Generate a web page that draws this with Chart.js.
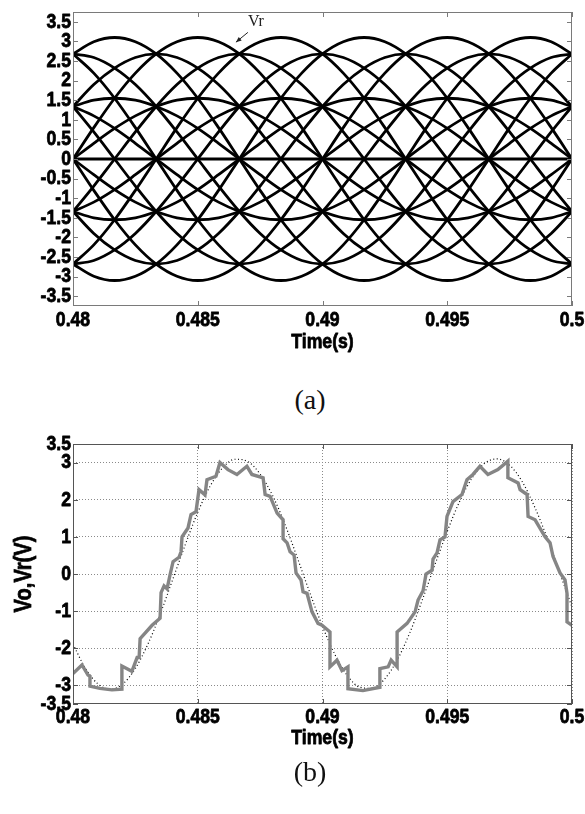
<!DOCTYPE html>
<html>
<head>
<meta charset="utf-8">
<script src="https://cdn.jsdelivr.net/npm/chart.js@4.4.0/dist/chart.umd.min.js"></script>
<style>
  html, body { margin: 0; padding: 0; background: #fff; }
  body { width: 585px; height: 814px; position: relative; overflow: hidden; }
  canvas { position: absolute; left: 0; }
  #chartA { top: 0; }
  #chartB { top: 420px; }
  .cap { position: absolute; left: 0; width: 620px; text-align: center; line-height: 30px;
         font-family: 'Liberation Serif', 'Times New Roman', serif; font-size: 28px; color: #111; }
</style>
</head>
<body>
<canvas id="chartA" width="585" height="360"></canvas>
<div class="cap" style="top:385px">(a)</div>
<canvas id="chartB" width="585" height="345"></canvas>
<div class="cap" style="top:757px">(b)</div>
<script>
// ---- (a) reference waves, sampled every 15 degrees of the 50 Hz period ----
const tA = [0.48, 0.480833, 0.481667, 0.4825, 0.483333, 0.484167, 0.485, 0.485833, 0.486667,
  0.4875, 0.488333, 0.489167, 0.49, 0.490833, 0.491667, 0.4925, 0.493333, 0.494167, 0.495,
  0.495833, 0.496667, 0.4975, 0.498333, 0.499167, 0.5];

// amplitude 3.1 group
const big0   = [0,0.80,1.55,2.19,2.68,2.99,3.10,2.99,2.68,2.19,1.55,0.80,0,-0.80,-1.55,-2.19,-2.68,-2.99,-3.10,-2.99,-2.68,-2.19,-1.55,-0.80,0];
const big60  = [2.68,2.99,3.10,2.99,2.68,2.19,1.55,0.80,0,-0.80,-1.55,-2.19,-2.68,-2.99,-3.10,-2.99,-2.68,-2.19,-1.55,-0.80,0,0.80,1.55,2.19,2.68];
const big120 = [2.68,2.19,1.55,0.80,0,-0.80,-1.55,-2.19,-2.68,-2.99,-3.10,-2.99,-2.68,-2.19,-1.55,-0.80,0,0.80,1.55,2.19,2.68,2.99,3.10,2.99,2.68];
const big180 = [0,-0.80,-1.55,-2.19,-2.68,-2.99,-3.10,-2.99,-2.68,-2.19,-1.55,-0.80,0,0.80,1.55,2.19,2.68,2.99,3.10,2.99,2.68,2.19,1.55,0.80,0];
const big240 = [-2.68,-2.99,-3.10,-2.99,-2.68,-2.19,-1.55,-0.80,0,0.80,1.55,2.19,2.68,2.99,3.10,2.99,2.68,2.19,1.55,0.80,0,-0.80,-1.55,-2.19,-2.68];
const big300 = [-2.68,-2.19,-1.55,-0.80,0,0.80,1.55,2.19,2.68,2.99,3.10,2.99,2.68,2.19,1.55,0.80,0,-0.80,-1.55,-2.19,-2.68,-2.99,-3.10,-2.99,-2.68];

// amplitude 2.68 group
const mid30  = [1.34,1.90,2.32,2.59,2.68,2.59,2.32,1.90,1.34,0.69,0,-0.69,-1.34,-1.90,-2.32,-2.59,-2.68,-2.59,-2.32,-1.90,-1.34,-0.69,0,0.69,1.34];
const mid90  = [2.68,2.59,2.32,1.90,1.34,0.69,0,-0.69,-1.34,-1.90,-2.32,-2.59,-2.68,-2.59,-2.32,-1.90,-1.34,-0.69,0,0.69,1.34,1.90,2.32,2.59,2.68];
const mid150 = [1.34,0.69,0,-0.69,-1.34,-1.90,-2.32,-2.59,-2.68,-2.59,-2.32,-1.90,-1.34,-0.69,0,0.69,1.34,1.90,2.32,2.59,2.68,2.59,2.32,1.90,1.34];
const mid210 = [-1.34,-1.90,-2.32,-2.59,-2.68,-2.59,-2.32,-1.90,-1.34,-0.69,0,0.69,1.34,1.90,2.32,2.59,2.68,2.59,2.32,1.90,1.34,0.69,0,-0.69,-1.34];
const mid270 = [-2.68,-2.59,-2.32,-1.90,-1.34,-0.69,0,0.69,1.34,1.90,2.32,2.59,2.68,2.59,2.32,1.90,1.34,0.69,0,-0.69,-1.34,-1.90,-2.32,-2.59,-2.68];
const mid330 = [-1.34,-0.69,0,0.69,1.34,1.90,2.32,2.59,2.68,2.59,2.32,1.90,1.34,0.69,0,-0.69,-1.34,-1.90,-2.32,-2.59,-2.68,-2.59,-2.32,-1.90,-1.34];

// amplitude 1.55 group
const sm0   = [0,0.40,0.78,1.10,1.34,1.50,1.55,1.50,1.34,1.10,0.78,0.40,0,-0.40,-0.78,-1.10,-1.34,-1.50,-1.55,-1.50,-1.34,-1.10,-0.78,-0.40,0];
const sm60  = [1.34,1.50,1.55,1.50,1.34,1.10,0.78,0.40,0,-0.40,-0.78,-1.10,-1.34,-1.50,-1.55,-1.50,-1.34,-1.10,-0.78,-0.40,0,0.40,0.78,1.10,1.34];
const sm120 = [1.34,1.10,0.78,0.40,0,-0.40,-0.78,-1.10,-1.34,-1.50,-1.55,-1.50,-1.34,-1.10,-0.78,-0.40,0,0.40,0.78,1.10,1.34,1.50,1.55,1.50,1.34];
const sm180 = [0,-0.40,-0.78,-1.10,-1.34,-1.50,-1.55,-1.50,-1.34,-1.10,-0.78,-0.40,0,0.40,0.78,1.10,1.34,1.50,1.55,1.50,1.34,1.10,0.78,0.40,0];
const sm240 = [-1.34,-1.50,-1.55,-1.50,-1.34,-1.10,-0.78,-0.40,0,0.40,0.78,1.10,1.34,1.50,1.55,1.50,1.34,1.10,0.78,0.40,0,-0.40,-0.78,-1.10,-1.34];
const sm300 = [-1.34,-1.10,-0.78,-0.40,0,0.40,0.78,1.10,1.34,1.50,1.55,1.50,1.34,1.10,0.78,0.40,0,-0.40,-0.78,-1.10,-1.34,-1.50,-1.55,-1.50,-1.34];

const zeroT = [0.48, 0.5];
const zeroV = [0, 0];

const xTicks = [0.48, 0.485, 0.49, 0.495, 0.5];
const yTicksA = [-3.5,-3,-2.5,-2,-1.5,-1,-0.5,0,0.5,1,1.5,2,2.5,3,3.5];

// ---- (b) output voltage Vo and reference Vr ----
const voT = [0.48,0.48036,0.4806,0.48068,0.48068,0.48108,0.48156,0.48196,0.48196,0.48236,
  0.48257,0.48265,0.48269,0.48317,0.48349,0.48353,0.48365,0.48377,0.48389,0.48401,
  0.48425,0.48433,0.48437,0.48461,0.48473,0.48493,0.48505,0.48529,0.48537,0.48573,
  0.48589,0.48621,0.48657,0.48697,0.48717,0.48762,0.4877,0.4879,0.48818,0.48842,
  0.48842,0.48858,0.4887,0.48886,0.48894,0.48914,0.48922,0.48938,0.48958,0.48982,
  0.48998,0.4903,0.4903,0.49058,0.49078,0.49102,0.49102,0.49162,0.4923,0.4923,
  0.49263,0.49275,0.49299,0.49299,0.49339,0.49371,0.49383,0.49403,0.49415,0.49439,
  0.49443,0.49459,0.49471,0.49491,0.49499,0.49523,0.49559,0.49579,0.49603,0.49631,
  0.49663,0.49703,0.49743,0.49743,0.49784,0.49792,0.4982,0.49824,0.49852,0.49892,
  0.49912,0.49924,0.49952,0.49972,0.4998,0.4998,0.5];
const voV = [-2.68,-2.45,-2.72,-2.75,-3.02,-3.08,-3.12,-3.1,-2.48,-2.62,
  -2.25,-2.25,-1.74,-1.38,-1.19,-0.5,-0.32,-0.4,-0.02,0.33,
  0.45,0.6,1.0,1.24,1.6,1.68,2.27,2.13,2.54,2.63,
  3.0,2.81,2.68,2.9,2.68,2.59,2.14,2.09,1.64,1.46,
  0.95,0.84,0.6,0.51,0.03,-0.16,-0.48,-0.52,-1.02,-1.33,
  -1.38,-1.56,-2.5,-2.32,-2.6,-2.5,-3.09,-3.14,-3.05,-2.55,
  -2.5,-2.32,-2.5,-1.56,-1.33,-1.02,-0.7,-0.45,0,0.1,
  0.4,0.57,0.92,1.0,1.55,1.95,2.14,2.54,2.68,2.9,
  2.68,2.81,3.04,2.59,2.45,2.27,2.14,1.55,1.46,1.0,
  0.84,0.47,0.03,-0.16,-0.52,-1.29,-1.38];

const vrT = [0.48,0.4805,0.481,0.4815,0.482,0.4825,0.483,0.4835,0.484,0.4845,
  0.485,0.4855,0.486,0.4865,0.487,0.4875,0.488,0.4885,0.489,0.4895,
  0.49,0.4905,0.491,0.4915,0.492,0.4925,0.493,0.4935,0.494,0.4945,
  0.495,0.4955,0.496,0.4965,0.497,0.4975,0.498,0.4985,0.499,0.4995,0.5];
const vrV = [-1.89,-2.54,-2.96,-3.10,-2.96,-2.54,-1.89,-1.07,-0.14,0.79,
  1.66,2.37,2.86,3.09,3.03,2.69,2.11,1.33,0.42,-0.52,
  -1.41,-2.17,-2.74,-3.05,-3.08,-2.82,-2.31,-1.58,-0.70,0.24,
  1.15,1.96,2.59,2.98,3.10,2.93,2.49,1.81,0.98,0.05,-0.89];
const yTicksB = [-3.5,-3,-2,-1,0,1,2,3,3.5];

// ---- helpers ----
const fam = "'Liberation Sans', Arial, sans-serif";
const pts = (xs, ys) => xs.map((x, i) => ({ x: x, y: ys[i] }));
const fmt = v => String(v);

// box around the plot with short inward ticks, like the original figure
const frame = {
  id: 'frame',
  afterDatasetsDraw(chart, args, opts) {
    const { ctx, chartArea: a, scales: { x, y } } = chart;
    ctx.save();
    ctx.strokeStyle = opts.color;
    ctx.lineWidth = 1;
    ctx.strokeRect(a.left + 0.5, a.top + 0.5, a.right - a.left - 1, a.bottom - a.top - 1);
    ctx.beginPath();
    for (const t of x.ticks) {
      const px = Math.round(x.getPixelForValue(t.value)) + 0.5;
      ctx.moveTo(px, a.bottom); ctx.lineTo(px, a.bottom - opts.len);
      ctx.moveTo(px, a.top); ctx.lineTo(px, a.top + opts.len);
    }
    for (const t of y.ticks) {
      const py = Math.round(y.getPixelForValue(t.value)) + 0.5;
      ctx.moveTo(a.left, py); ctx.lineTo(a.left + opts.len, py);
      ctx.moveTo(a.right, py); ctx.lineTo(a.right - opts.len, py);
    }
    ctx.stroke();
    ctx.restore();
  }
};

// tick labels and titles in a narrow heavy face (the figure uses a condensed bold font)
const axisText = {
  id: 'axisText',
  afterDraw(chart, args, o) {
    const { ctx, chartArea: a, scales: { x, y } } = chart;
    const put = (txt, px, py, align, size, rot) => {
      ctx.save();
      ctx.translate(px, py);
      if (rot) ctx.rotate(rot);
      ctx.scale(o.squeeze, 1);
      ctx.font = 'bold ' + size + 'px ' + fam;
      ctx.fillStyle = '#000';
      ctx.strokeStyle = '#000';
      ctx.lineWidth = 0.8;
      ctx.lineJoin = 'round';
      ctx.textAlign = align;
      ctx.textBaseline = 'middle';
      ctx.fillText(txt, 0, 0);
      ctx.strokeText(txt, 0, 0);
      ctx.restore();
    };
    for (const t of x.ticks) put(fmt(t.value), x.getPixelForValue(t.value), a.bottom + o.xGap, 'center', o.size);
    for (const t of y.ticks) put(fmt(t.value), a.left - 2, y.getPixelForValue(t.value), 'right', o.size);
    put('Time(s)', (a.left + a.right) / 2, a.bottom + o.titleGap, 'center', o.size);
    if (o.yTitle) put(o.yTitle, o.yTitleX, (a.top + a.bottom) / 2, 'center', o.yTitleSize, -Math.PI / 2);
  }
};

// "Vr" note with its arrow in (a)
const noteText = [0.48733, 3.49];
const noteFrom = [0.48701, 3.23];
const noteTo = [0.48653, 2.98];
const vrNote = {
  id: 'vrNote',
  afterDatasetsDraw(chart) {
    const { ctx, scales: { x, y } } = chart;
    const x0 = x.getPixelForValue(noteFrom[0]), y0 = y.getPixelForValue(noteFrom[1]);
    const x1 = x.getPixelForValue(noteTo[0]), y1 = y.getPixelForValue(noteTo[1]);
    ctx.save();
    ctx.strokeStyle = '#222';
    ctx.fillStyle = '#222';
    ctx.lineWidth = 1;
    ctx.beginPath(); ctx.moveTo(x0, y0); ctx.lineTo(x1, y1); ctx.stroke();
    const ang = Math.atan2(y1 - y0, x1 - x0);
    ctx.beginPath();
    ctx.moveTo(x1, y1);
    ctx.lineTo(x1 - 6 * Math.cos(ang - 0.4), y1 - 6 * Math.sin(ang - 0.4));
    ctx.lineTo(x1 - 6 * Math.cos(ang + 0.4), y1 - 6 * Math.sin(ang + 0.4));
    ctx.closePath(); ctx.fill();
    ctx.font = "16px 'Liberation Serif', 'Times New Roman', serif";
    ctx.textAlign = 'center';
    ctx.textBaseline = 'middle';
    ctx.fillText('Vr', x.getPixelForValue(noteText[0]), y.getPixelForValue(noteText[1]));
    ctx.restore();
  }
};

// ---- chart (a) ----
const curvesA = [big0, big60, big120, big180, big240, big300,
  mid30, mid90, mid150, mid210, mid270, mid330,
  sm0, sm60, sm120, sm180, sm240, sm300];
const dsA = curvesA.map(c => ({
  data: pts(tA, c), borderColor: '#000', borderWidth: 2.8,
  pointRadius: 0, cubicInterpolationMode: 'monotone', fill: false
}));
dsA.push({ data: pts(zeroT, zeroV), borderColor: '#000', borderWidth: 2.8, pointRadius: 0, fill: false });

new Chart(document.getElementById('chartA'), {
  type: 'line',
  data: { datasets: dsA },
  options: {
    responsive: false, animation: false, devicePixelRatio: 1,
    layout: { padding: { top: 12, right: 13, left: 0, bottom: 0 } },
    plugins: {
      legend: { display: false }, tooltip: { enabled: false },
      frame: { color: '#7a7a7a', len: 5 },
      axisText: { squeeze: 0.84, size: 21, xGap: 14, titleGap: 36 }
    },
    scales: {
      x: {
        type: 'linear', min: 0.48, max: 0.5,
        afterBuildTicks: s => { s.ticks = xTicks.map(v => ({ value: v })); },
        afterFit: s => { s.height = 54; },
        grid: { display: false }, border: { display: false },
        ticks: { display: false }
      },
      y: {
        min: -3.75, max: 3.75,
        afterBuildTicks: s => { s.ticks = yTicksA.map(v => ({ value: v })); },
        afterFit: s => { s.width = 73; },
        grid: { display: false }, border: { display: false },
        ticks: { display: false }
      }
    }
  },
  plugins: [frame, vrNote, axisText]
});

// ---- chart (b) ----
new Chart(document.getElementById('chartB'), {
  type: 'line',
  data: {
    datasets: [
      { label: 'Vo', data: pts(voT, voV), borderColor: '#858585', borderWidth: 3.4,
        pointRadius: 0, tension: 0, fill: false, borderJoinStyle: 'miter' },
      { label: 'Vr', data: pts(vrT, vrV), borderColor: '#000', borderWidth: 1.2, borderDash: [1, 2.5],
        pointRadius: 0, cubicInterpolationMode: 'monotone', fill: false }
    ]
  },
  options: {
    responsive: false, animation: false, devicePixelRatio: 1,
    layout: { padding: { top: 24, right: 13, left: 0, bottom: 0 } },
    plugins: {
      legend: { display: false }, tooltip: { enabled: false },
      frame: { color: '#555', len: 5 },
      axisText: { squeeze: 0.84, size: 21, xGap: 13, titleGap: 34, yTitle: 'Vo,Vr(V)', yTitleX: 24, yTitleSize: 24 }
    },
    scales: {
      x: {
        type: 'linear', min: 0.48, max: 0.5,
        afterBuildTicks: s => { s.ticks = xTicks.map(v => ({ value: v })); },
        afterFit: s => { s.height = 61; },
        grid: { color: '#8a8a8a', lineWidth: 1, drawTicks: false },
        border: { display: false, dash: [1, 2] },
        ticks: { display: false }
      },
      y: {
        min: -3.5, max: 3.5,
        afterBuildTicks: s => { s.ticks = yTicksB.map(v => ({ value: v })); },
        afterFit: s => { s.width = 73; },
        grid: { color: c => Math.abs(c.tick.value) === 3.5 ? 'rgba(0,0,0,0)' : '#8a8a8a', lineWidth: 1, drawTicks: false },
        border: { display: false, dash: [1, 2] },
        ticks: { display: false }
      }
    }
  },
  plugins: [frame, axisText]
});
</script>
</body>
</html>
